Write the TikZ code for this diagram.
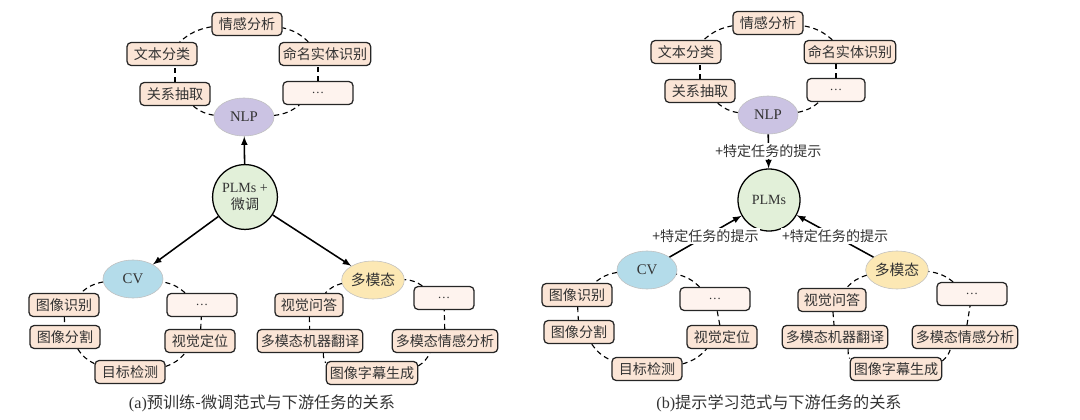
\documentclass[tikz,border=0pt]{standalone}
\usepackage{fontspec}
\setmainfont{Liberation Serif}
\newfontfamily\cjk{Noto Sans CJK SC}
\usepackage{xcolor}
\usetikzlibrary{shapes, arrows}
\definecolor{taskfill}{HTML}{FBE5D6}
\definecolor{morefill}{HTML}{FEF3EE}
\definecolor{nlpfill}{HTML}{CBC3E3}
\definecolor{cvfill}{HTML}{B4DCEA}
\definecolor{mmfill}{HTML}{FCE8B4}
\definecolor{plmfill}{HTML}{E2F0D9}
\definecolor{ink}{HTML}{333333}

\begin{document}
\begin{tikzpicture}[x=0.025cm, y=0.025cm, text=ink,
        font=\fontsize{10}{12}\selectfont,
        task/.style={draw=black!85, line width=0.9pt, rounded corners=3pt, fill=taskfill,
            minimum width=1.75cm, minimum height=0.575cm, inner xsep=2.5pt,
            font=\fontsize{10}{12}\selectfont\cjk},
        more/.style={task, fill=morefill, font=\fontsize{9}{11}\selectfont},
        field/.style={ellipse, draw=black!25, minimum width=1.5cm, minimum height=0.95cm,
            inner sep=0pt, font=\fontsize{10.5}{12}\selectfont},
        plm/.style={circle, draw, line width=0.9pt, fill=plmfill, minimum size=1.55cm,
            inner sep=0pt, align=center},
        ring/.style={thick, dash pattern=on 3.6pt off 2.6pt},
        flow/.style={->, >=latex, line width=1.1pt},
        hint/.style={fill=white, inner sep=1pt, font=\fontsize{10}{12}\selectfont\cjk}]
        \useasboundingbox (0,0) rectangle (1080,-420);

        \node (senA) [task] at (247,-24) {情感分析};
        \node (txtA) [task] at (162,-54) {文本分类};
        \node (nerA) [task] at (325,-54) {命名实体识别};
        \node (relA) [task] at (175,-94) {关系抽取};
        \node (etcA) [more] at (318,-93) {\dots};
        \node (nlpA) [field, fill=nlpfill] at (244,-117) {NLP};
        \node (plmA) [plm, minimum size=1.62cm] at (245,-197) {PLMs +\\{\cjk 微调}};
        \node (cvA) [field, fill=cvfill] at (133,-279) {CV};
        \node (mmA) [field, fill=mmfill] at (373,-280) {\cjk 多模态};
        \node (recA) [task] at (64,-305) {图像识别};
        \node (segA) [task] at (65,-337) {图像分割};
        \node (detA) [task] at (130,-372) {目标检测};
        \node (locA) [task] at (200,-341) {视觉定位};
        \node (cvetcA) [more] at (202,-305) {\dots};
        \node (vqaA) [task, minimum width=1.7cm] at (309,-305) {视觉问答};
        \node (mmtA) [task] at (310,-341) {多模态机器翻译};
        \node (capA) [task] at (372,-373) {图像字幕生成};
        \node (msaA) [task] at (445,-341) {多模态情感分析};
        \node (mmetcA) [more, minimum width=1.5cm] at (444,-298) {\dots};
        \node (capa) at (262,-403) {\fontsize{11.5}{13}\selectfont(a){\cjk 预训练-微调范式与下游任务的关系}};

        \draw[ring] (nlpA) to[bend right=15] (etcA);
        \draw[ring] (etcA.north) -- (etcA.north |- nerA.south);
        \draw[ring] (nerA) to[bend right=15] (senA);
        \draw[ring] (senA) to[bend right=15] (txtA);
        \draw[ring] (relA.north) -- (relA.north |- txtA.south);
        \draw[ring] (relA) to[bend right=15] (nlpA);
        \draw[ring] (cvA) to[bend right=15] (recA);
        \draw[ring] (recA) -- (segA);
        \draw[ring] (segA) to[bend right=15] (detA);
        \draw[ring] (detA) to[bend right=15] (locA);
        \draw[ring] (locA) -- (cvetcA);
        \draw[ring] (cvetcA) to[bend right=15] (cvA);
        \draw[ring] (mmA) to[bend right=15] (vqaA);
        \draw[ring] (vqaA) -- (mmtA);
        \draw[ring] (mmtA) to[bend right=15] (capA);
        \draw[ring] (capA) to[bend right=15] (msaA);
        \draw[ring] (msaA) -- (mmetcA);
        \draw[ring] (mmetcA) to[bend right=15] (mmA);

        \draw[flow] (plmA) -- (nlpA);
        \draw[flow] (plmA) -- (cvA);
        \draw[flow] (plmA) -- (mmA);

        \node (senB) [task] at (768,-23) {情感分析};
        \node (txtB) [task] at (686,-52) {文本分类};
        \node (nerB) [task] at (850,-52) {命名实体识别};
        \node (relB) [task] at (700,-91) {关系抽取};
        \node (etcB) [more, minimum width=1.45cm] at (836,-90) {\dots};
        \node (nlpB) [field, fill=nlpfill] at (768,-115) {NLP};
        \node (plmB) [plm] at (769,-200) {PLMs};
        \node (cvB) [field, fill=cvfill] at (647,-270) {CV};
        \node (mmB) [field, fill=mmfill] at (897,-270) {\cjk 多模态};
        \node (recB) [task] at (577,-295) {图像识别};
        \node (segB) [task] at (579,-332) {图像分割};
        \node (detB) [task] at (647,-369) {目标检测};
        \node (locB) [task] at (722,-337) {视觉定位};
        \node (cvetcB) [more] at (715,-299) {\dots};
        \node (vqaB) [task, minimum width=1.7cm] at (832,-300) {视觉问答};
        \node (mmtB) [task] at (835,-337) {多模态机器翻译};
        \node (msaB) [task] at (965,-337) {多模态情感分析};
        \node (mmetcB) [more] at (972,-294) {\dots};
        \node (capB) [task] at (896,-369) {图像字幕生成};
        \node (capb) at (779,-403) {\fontsize{11.5}{13}\selectfont(b){\cjk 提示学习范式与下游任务的关系}};

        \draw[ring] (nlpB) to[bend right=15] (etcB);
        \draw[ring] (etcB.north) -- (etcB.north |- nerB.south);
        \draw[ring] (nerB) to[bend right=15] (senB);
        \draw[ring] (senB) to[bend right=15] (txtB);
        \draw[ring] (relB.north) -- (relB.north |- txtB.south);
        \draw[ring] (relB) to[bend right=15] (nlpB);
        \draw[ring] (cvB) to[bend right=15] (recB);
        \draw[ring] (recB) -- (segB);
        \draw[ring] (segB) to[bend right=15] (detB);
        \draw[ring] (detB) to[bend right=15] (locB);
        \draw[ring] (locB) -- (cvetcB);
        \draw[ring] (cvetcB) to[bend right=15] (cvB);
        \draw[ring] (mmB) to[bend right=15] (vqaB);
        \draw[ring] (vqaB) -- (mmtB);
        \draw[ring] (mmtB) to[bend right=15] (capB);
        \draw[ring] (capB) to[bend right=15] (msaB);
        \draw[ring] (msaB) -- (mmetcB);
        \draw[ring] (mmetcB) to[bend right=15] (mmB);

        \draw[flow] (nlpB) -- node[hint] {+特定任务的提示} (plmB);
        \draw[flow] (cvB) -- node[hint] {+特定任务的提示} (plmB);
        \draw[flow] (mmB) -- node[hint] {+特定任务的提示} (plmB);
    \end{tikzpicture}
\end{document}
